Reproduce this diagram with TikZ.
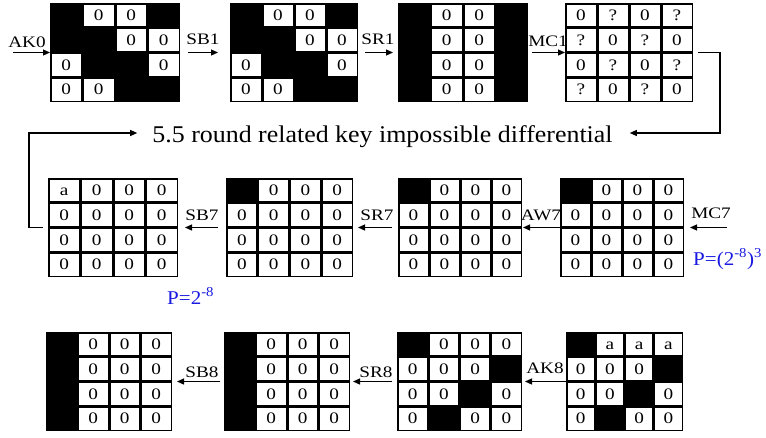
\documentclass[tikz,border=0pt]{standalone}
\usepackage{fontspec}
\setmainfont{Liberation Serif}
\newfontfamily\cfont{Liberation Serif}[FakeStretch=1.2]
\newfontfamily\tfont{Liberation Serif}[FakeStretch=1.08]
\usetikzlibrary{arrows.meta}
\definecolor{pblue}{RGB}{25,25,225}
\tikzset{
  gridbox/.style={fill=black, draw=none, inner sep=0pt, outer sep=0pt, minimum height=99pt},
  cellbox/.style={fill=white, draw=none, inner sep=0pt, outer sep=0pt,
    font=\cfont\fontsize{16}{16}\selectfont, text height=10.5pt, text depth=0pt},
  lab/.style={inner sep=0pt, font=\cfont\fontsize{16}{16}\selectfont},
  plab/.style={inner sep=0pt, text=pblue, font=\tfont\fontsize{19.5}{19.5}\selectfont},
  arr/.style={line width=1.1pt, -{Triangle[length=7pt,width=6pt]}},
}
\newcommand{\mkgrid}[5]{%
  \node[gridbox, minimum width=#4pt, anchor=north west] (#1) at (#2,#3) {};
  \foreach \v [count=\i from 0] in {#5} {%
    \pgfmathtruncatemacro\rr{\i/4}%
    \pgfmathtruncatemacro\cc{mod(\i,4)}%
    \pgfmathsetmacro\cwid{#4/4-3}%
    \if B\v\relax\else
      \node[cellbox, minimum width=\cwid pt, minimum height=21.75pt]
        (#1-\rr-\cc) at ({#2+#4/4*(\cc+0.5)}, {#3+24.75*(\rr+0.5)}) {\v};
    \fi
  }%
}
\begin{document}
\begin{tikzpicture}[x=1pt,y=-1pt]
\useasboundingbox (0,0) rectangle (766,437);
% row 1
\mkgrid{g1}{50}{3}{130}{B,0,0,B, B,B,0,0, 0,B,B,0, 0,0,B,B}
\mkgrid{g2}{230}{3}{128}{B,0,0,B, B,B,0,0, 0,B,B,0, 0,0,B,B}
\mkgrid{g3}{398}{3}{130}{B,0,0,B, B,0,0,B, B,0,0,B, B,0,0,B}
\mkgrid{g4}{565}{3}{128}{0,?,0,?, ?,0,?,0, 0,?,0,?, ?,0,?,0}
% row 2
\mkgrid{gA}{48}{178}{130}{a,0,0,0, 0,0,0,0, 0,0,0,0, 0,0,0,0}
\mkgrid{gB}{226}{178}{127}{B,0,0,0, 0,0,0,0, 0,0,0,0, 0,0,0,0}
\mkgrid{gC}{398}{178}{124}{B,0,0,0, 0,0,0,0, 0,0,0,0, 0,0,0,0}
\mkgrid{gD}{560}{178}{124}{B,0,0,0, 0,0,0,0, 0,0,0,0, 0,0,0,0}
% row 3
\mkgrid{gE}{46}{332}{126}{B,0,0,0, B,0,0,0, B,0,0,0, B,0,0,0}
\mkgrid{gF}{224}{332}{126}{B,0,0,0, B,0,0,0, B,0,0,0, B,0,0,0}
\mkgrid{gG}{397}{332}{125}{B,0,0,0, 0,0,0,B, 0,0,B,0, 0,B,0,0}
\mkgrid{gH}{566}{332}{117}{B,a,a,a, 0,0,0,B, 0,0,B,0, 0,B,0,0}

% row 1 arrows
\coordinate (s0) at (13,52.5);
\draw[arr] (s0) -- (g1.west);
\draw[arr] ([xshift=8pt]g1.east) -- ([xshift=-12pt]g2.west);
\draw[arr] ([xshift=7pt]g2.east) -- ([xshift=-5pt]g3.west);
\draw[arr] ([xshift=4pt]g3.east) -- (g4.west);
\node[lab, anchor=base] (lAK0) at (27,47) {AK0};
\node[lab, anchor=base] (lSB1) at (203,44) {SB1};
\node[lab, anchor=base] (lSR1) at (378,44) {SR1};
\node[lab, anchor=base] (lMC1) at (548,46) {MC1};

% title and connectors
\node[inner sep=0pt, anchor=base, font=\tfont\fontsize{24}{24}\selectfont] (title) at (382.5,142) {5.5 round related key impossible differential};
\coordinate (c1) at (720,133);
\coordinate (c2) at (29,133);
\coordinate (te) at ([xshift=17pt]title.east);
\coordinate (tw) at ([xshift=-15pt]title.west);
\draw[arr] ([xshift=5pt]g4.east) -| (c1) -- (te |- c1);
\draw[arr] ([xshift=-5pt]gA.west) -| (c2) -- (tw |- c2);

% row 2 arrows
\draw[arr] ([xshift=-8pt]gB.west) -- ([xshift=7pt]gA.east);
\draw[arr] ([xshift=-6pt]gC.west) -- ([xshift=5pt]gB.east);
\draw[arr] (gD.west) -- ([xshift=1pt]gC.east);
\coordinate (s7) at (727,227.5);
\draw[arr] (s7) -- ([xshift=6pt]gD.east);
\node[lab, anchor=base] (lSB7) at (202,220) {SB7};
\node[lab, anchor=base] (lSR7) at (377,220) {SR7};
\node[lab, anchor=base] (lAW7) at (541,220) {AW7};
\node[lab, anchor=base] (lMC7) at (711,218) {MC7};
\node[plab, anchor=base west] (p3) at (693,265) {P=(2\textsuperscript{-8})\textsuperscript{3}};
\node[plab, anchor=base west] (p1) at (167,304) {P=2\textsuperscript{-8}};

% row 3 arrows
\draw[arr] ([xshift=-4pt]gF.west) -- ([xshift=5pt]gE.east);
\draw[arr] ([xshift=-5pt]gG.west) -- ([xshift=3pt]gF.east);
\draw[arr] (gH.west) -- ([xshift=3pt]gG.east);
\node[lab, anchor=base] (lSB8) at (202,377) {SB8};
\node[lab, anchor=base] (lSR8) at (376,377) {SR8};
\node[lab, anchor=base] (lAK8) at (545,373) {AK8};
\end{tikzpicture}
\end{document}
